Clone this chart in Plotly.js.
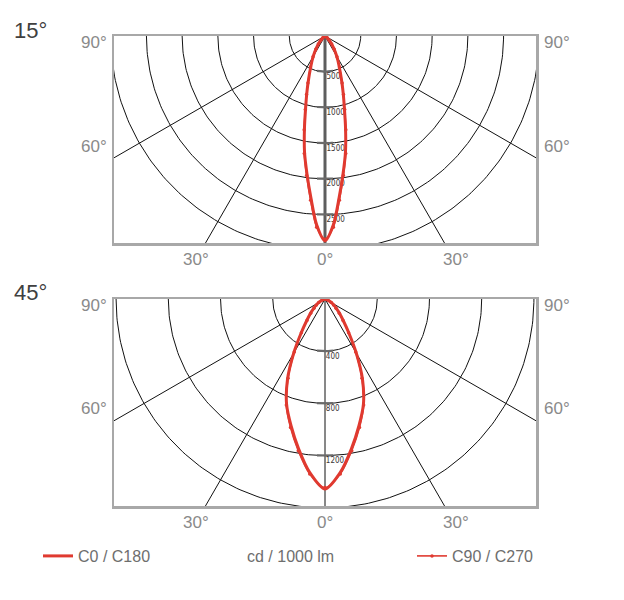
<!DOCTYPE html>
<html><head><meta charset="utf-8">
<script src="https://cdn.plot.ly/plotly-3.0.1.min.js"></script>
<style>html,body{margin:0;padding:0;background:#fff}#chart{width:624px;height:600px}</style>
</head><body><div id="chart"></div>
<script>
// ---- data ----
const angles15 = [0, 2.5, 5, 7.5, 10, 12.5, 15, 17.5, 20, 25, 30, 35, 40, 45, 50, 60, 70, 80, 90];
const c0c180_15 = [2870, 2650, 2270, 1940, 1650, 1330, 1050, 850, 690, 470, 330, 220, 140, 80, 40, 10, 5, 0, 0];
const c90c270_15 = [2845, 2680, 2310, 1970, 1670, 1345, 1065, 860, 700, 480, 335, 225, 145, 85, 45, 12, 5, 0, 0];
const angles45 = [0, 5, 10, 15, 20, 25, 30, 35, 40, 45, 50, 55, 60, 70, 80, 90];
const c0c180_45 = [1455, 1335, 1165, 1005, 860, 680, 480, 320, 220, 160, 115, 85, 60, 25, 8, 0];
const c90c270_45 = [1445, 1345, 1180, 1020, 865, 670, 470, 315, 215, 155, 110, 80, 55, 22, 7, 0];
const rings15 = [500, 1000, 1500, 2000, 2500, 3000];
const ringLabels15 = ['500', '1000', '1500', '2000', '2500'];
const rings45 = [400, 800, 1200, 1600];
const ringLabels45 = ['400', '800', '1200'];
const spokes = [-60, -30, 30, 60];
const panelTitles = ['15°', '45°'];
const sideTicks = ['90°', '60°'];
const bottomTicks = ['30°', '0°', '30°'];
const seriesNames = ['C0 / C180', 'C90 / C270'];
const unitLabel = 'cd / 1000 lm';

const RED = '#e03a30';
const D2R = Math.PI / 180;

function curve(angles, vals) {
  const x = [], y = [];
  for (let i = angles.length - 1; i >= 0; i--) {
    const t = -angles[i] * D2R;
    x.push(vals[i] * Math.sin(t)); y.push(-vals[i] * Math.cos(t));
  }
  for (let i = 1; i < angles.length; i++) {
    const t = angles[i] * D2R;
    x.push(vals[i] * Math.sin(t)); y.push(-vals[i] * Math.cos(t));
  }
  return {x, y};
}
function rings(vals) {
  const x = [], y = [];
  vals.forEach(r => {
    for (let a = -90; a <= 90; a += 1) { x.push(r * Math.sin(a * D2R)); y.push(-r * Math.cos(a * D2R)); }
    x.push(null); y.push(null);
  });
  return {x, y};
}
function tickArcs(vals, hw) {
  const x = [], y = [];
  vals.forEach(r => {
    const p = Math.asin(Math.min(1, hw / r));
    for (let k = 0; k <= 10; k++) { const a = -p + 2 * p * k / 10; x.push(r * Math.sin(a)); y.push(-r * Math.cos(a)); }
    x.push(null); y.push(null);
  });
  return {x, y};
}
function spokeLines(angs, L) {
  const x = [], y = [];
  angs.forEach(a => { x.push(0, L * Math.sin(a * D2R), null); y.push(0, -L * Math.cos(a * D2R), null); });
  return {x, y};
}

// unitPerPx: data units per screen pixel in that panel
function panel(xa, ya, ringVals, labels, angles, c0, c90, L, unitPerPx, axisColor, axisWidth, labelGap, showLeg) {
  const tr = [];
  const g = rings(ringVals);
  tr.push({x: g.x, y: g.y, xaxis: xa, yaxis: ya, mode: 'lines', line: {color: '#111', width: 1}, hoverinfo: 'skip', showlegend: false});
  const s = spokeLines(spokes, L);
  tr.push({x: s.x, y: s.y, xaxis: xa, yaxis: ya, mode: 'lines', line: {color: '#111', width: 1}, hoverinfo: 'skip', showlegend: false});
  tr.push({x: [0, 0], y: [0, -L], xaxis: xa, yaxis: ya, mode: 'lines', line: {color: axisColor, width: axisWidth}, hoverinfo: 'skip', showlegend: false});
  const tk = tickArcs(ringVals.slice(0, labels.length), 8 * unitPerPx);
  tr.push({x: tk.x, y: tk.y, xaxis: xa, yaxis: ya, mode: 'lines', line: {color: '#6a6a6a', width: 2.2}, hoverinfo: 'skip', showlegend: false});
  tr.push({x: labels.map(() => labelGap * unitPerPx), y: ringVals.slice(0, labels.length).map(v => -v - 1.5 * unitPerPx), text: labels,
    xaxis: xa, yaxis: ya, mode: 'text', textposition: 'bottom right',
    textfont: {family: 'Liberation Sans Narrow, DejaVu Sans Condensed, sans-serif', size: 8, color: '#3d3535'},
    hoverinfo: 'skip', showlegend: false});
  const a = curve(angles, c0);
  tr.push({x: a.x, y: a.y, xaxis: xa, yaxis: ya, mode: 'lines', name: seriesNames[0],
    line: {color: RED, width: 3, shape: 'spline', smoothing: 0.8}, showlegend: showLeg, legend: 'legend'});
  const b = curve(angles, c90);
  tr.push({x: b.x, y: b.y, xaxis: xa, yaxis: ya, mode: 'lines+markers', name: seriesNames[1],
    line: {color: RED, width: 1.6, shape: 'spline', smoothing: 0.8}, marker: {color: RED, size: 3.5},
    showlegend: showLeg, legend: 'legend2'});
  return tr;
}

const traces = [].concat(
  panel('x', 'y', rings15, ringLabels15, angles15, c0c180_15, c90c270_15, 6000, 14.0, '#5e5e5e', 3, 1.5, true),
  panel('x2', 'y2', rings45, ringLabels45, angles45, c0c180_45, c90c270_45, 3300, 7.66, '#111', 1, 0.8, false)
);

const W = 624, H = 600;
const px = v => v / W, py = v => 1 - v / H;
const GRAY = '#8a8a8a';
const degFont = {family: 'Liberation Sans, Arial, sans-serif', size: 17, color: GRAY};
const ann = [];
function A(o) { ann.push(Object.assign({xref: 'paper', yref: 'paper', showarrow: false}, o)); }
function addPanelLabels(title, topY, sideYs, bottomY) {
  A({text: title, x: px(12), y: py(topY), xanchor: 'left', yanchor: 'middle',
    font: {family: 'Liberation Sans, Arial, sans-serif', size: 22, color: '#404040'}});
  sideTicks.forEach((t, i) => {
    A({text: t, x: px(109), y: py(sideYs[i]), xanchor: 'right', yanchor: 'middle', font: degFont});
    A({text: t, x: px(542), y: py(sideYs[i]), xanchor: 'left', yanchor: 'middle', font: degFont});
  });
  const bx = [195.5, 325, 455.5];
  bottomTicks.forEach((t, i) => {
    A({text: t, x: px(bx[i]), y: py(bottomY), xanchor: 'center', yanchor: 'middle', font: degFont});
  });
}
addPanelLabels(panelTitles[0], 30, [43, 146], 259);
addPanelLabels(panelTitles[1], 292, [305, 408], 522);
A({text: unitLabel, x: px(290), y: py(556), xanchor: 'center', yanchor: 'middle',
  font: {family: 'Liberation Sans, Arial, sans-serif', size: 16, color: '#6e6e6e'}});

const axBase = {showgrid: false, zeroline: false, showticklabels: false, ticks: '', showline: true, mirror: true,
  linecolor: '#a8a8a8', linewidth: 2.5, fixedrange: true};
const legFont = {family: 'Liberation Sans, Arial, sans-serif', size: 16, color: '#6e6e6e'};
const layout = {
  width: W, height: H, margin: {l: 0, r: 0, t: 0, b: 0},
  paper_bgcolor: '#fff', plot_bgcolor: '#fff', showlegend: true,
  xaxis: Object.assign({}, axBase, {domain: [px(114), px(536)], range: [-2954, 2954], anchor: 'y'}),
  yaxis: Object.assign({}, axBase, {domain: [py(243), py(36)], range: [-2898, 0], anchor: 'x'}),
  xaxis2: Object.assign({}, axBase, {domain: [px(114), px(536)], range: [-1616, 1616], anchor: 'y2'}),
  yaxis2: Object.assign({}, axBase, {domain: [py(506), py(299)], range: [-1586, 0], anchor: 'x2'}),
  legend: {x: px(38), y: py(556), xanchor: 'left', yanchor: 'middle', orientation: 'h', font: legFont, bgcolor: 'rgba(0,0,0,0)'},
  legend2: {x: px(412), y: py(556), xanchor: 'left', yanchor: 'middle', orientation: 'h', font: legFont, bgcolor: 'rgba(0,0,0,0)'},
  annotations: ann
};
Plotly.newPlot('chart', traces, layout, {staticPlot: true, displayModeBar: false});
</script></body></html>
